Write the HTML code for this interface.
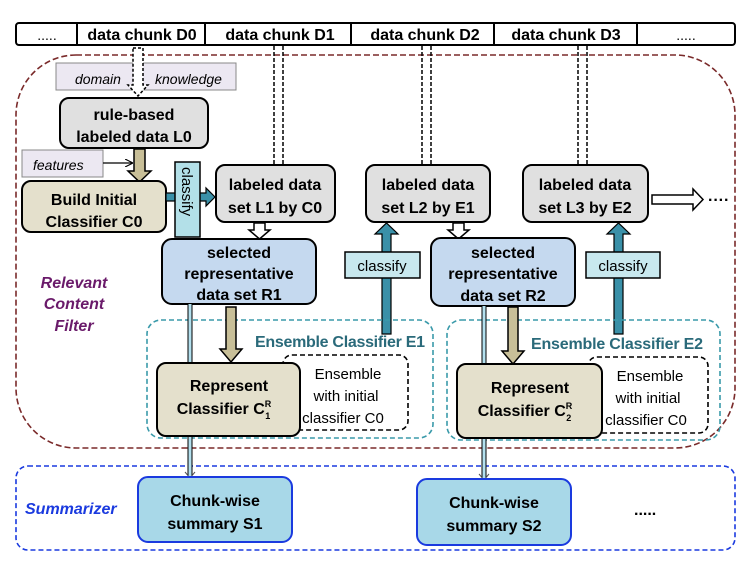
<!DOCTYPE html>
<html><head><meta charset="utf-8"><style>body{margin:0;background:#fff}svg{display:block}text{font-family:"Liberation Sans",sans-serif}</style></head><body>
<svg width="747" height="561" viewBox="0 0 747 561" xmlns="http://www.w3.org/2000/svg">
<defs>
<marker id="ah" markerWidth="8" markerHeight="8" refX="7" refY="4" orient="auto" markerUnits="userSpaceOnUse"><path d="M0,0 L8,4 L0,8" fill="none" stroke="#000" stroke-width="1.2"/></marker>
</defs>
<rect x="16" y="23" width="719" height="22" rx="3" fill="#fff" stroke="#000" stroke-width="2"/>
<g stroke="#000" stroke-width="2"><line x1="77" y1="23" x2="77" y2="45"/><line x1="205" y1="23" x2="205" y2="45"/><line x1="351" y1="23" x2="351" y2="45"/><line x1="494" y1="23" x2="494" y2="45"/><line x1="637" y1="23" x2="637" y2="45"/></g>
<g font-size="16" font-weight="bold" text-anchor="middle">
<text x="47" y="40" font-weight="normal" font-size="14">.....</text>
<text x="142" y="40">data chunk D0</text><text x="280" y="40">data chunk D1</text>
<text x="425" y="40">data chunk D2</text><text x="566" y="40">data chunk D3</text>
<text x="686" y="40" font-weight="normal" font-size="14">.....</text></g>
<rect x="16" y="55" width="719" height="393" rx="60" fill="none" stroke="#7a2a2a" stroke-width="1.6" stroke-dasharray="6,3"/>
<rect x="16" y="466" width="719" height="84" rx="12" fill="none" stroke="#1a3adf" stroke-width="1.6" stroke-dasharray="5,3"/>
<rect x="56" y="63" width="180" height="27" fill="#ece8f2" stroke="#888" stroke-width="1"/>
<text x="75" y="84" font-size="14" font-style="italic">domain</text>
<text x="155" y="84" font-size="14" font-style="italic">knowledge</text>
<path d="M133,48 L143,48 L143,85 L148,85 L138,96 L128,85 L133,85 Z" fill="#fff" stroke="#000" stroke-width="1.5" stroke-dasharray="3,2"/>
<g stroke="#000" stroke-width="1.5" stroke-dasharray="4,2">
<line x1="274" y1="46" x2="274" y2="165"/><line x1="283" y1="46" x2="283" y2="165"/>
<line x1="422" y1="46" x2="422" y2="165"/><line x1="431" y1="46" x2="431" y2="165"/>
<line x1="578" y1="46" x2="578" y2="165"/><line x1="587" y1="46" x2="587" y2="165"/></g>
<rect x="60" y="98" width="148" height="50" rx="9" fill="#e0e0e0" stroke="#000" stroke-width="2"/>
<text x="134" y="120" font-size="16" font-weight="bold" text-anchor="middle">rule-based</text>
<text x="134" y="142" font-size="16" font-weight="bold" text-anchor="middle">labeled data L0</text>
<rect x="22" y="150" width="81" height="27" fill="#ece8f2" stroke="#888" stroke-width="1"/>
<text x="33" y="170" font-size="14" font-style="italic">features</text>
<line x1="103" y1="163" x2="132" y2="163" stroke="#000" stroke-width="1.2" marker-end="url(#ah)"/>
<path d="M134,149 L145,149 L145,171 L151,171 L139.5,182 L128,171 L134,171 Z" fill="#c8bf98" stroke="#000" stroke-width="1.5"/>
<rect x="22" y="181" width="144" height="51" rx="9" fill="#e4e0cc" stroke="#000" stroke-width="2"/>
<text x="94" y="205" font-size="16" font-weight="bold" text-anchor="middle">Build Initial</text>
<text x="94" y="227" font-size="16" font-weight="bold" text-anchor="middle">Classifier C0</text>
<path d="M166,193 L206,193 L206,188 L215,197 L206,206 L206,201 L166,201 Z" fill="#3a90a8" stroke="#000" stroke-width="1.2"/>
<rect x="175" y="162" width="25" height="75" fill="#b3e0e8" stroke="#000" stroke-width="1.5"/>
<text x="182" y="167" font-size="15" transform="rotate(90 182 167)">classify</text>
<rect x="216" y="165" width="119" height="57" rx="9" fill="#e0e0e0" stroke="#000" stroke-width="2"/>
<text x="275" y="190" font-size="16" font-weight="bold" text-anchor="middle">labeled data</text>
<text x="275" y="213" font-size="16" font-weight="bold" text-anchor="middle">set L1 by C0</text>
<path d="M254,223 L265,223 L265,230 L270,230 L259.5,239 L249,230 L254,230 Z" fill="#fff" stroke="#000" stroke-width="1.5"/>
<rect x="162" y="239" width="154" height="65" rx="10" fill="#c5d9ef" stroke="#000" stroke-width="2"/>
<g font-size="16" font-weight="bold" text-anchor="middle"><text x="239" y="258">selected</text><text x="239" y="279">representative</text><text x="239" y="300">data set R1</text></g>
<rect x="366" y="165" width="124" height="57" rx="9" fill="#e0e0e0" stroke="#000" stroke-width="2"/>
<text x="428" y="190" font-size="16" font-weight="bold" text-anchor="middle">labeled data</text>
<text x="428" y="213" font-size="16" font-weight="bold" text-anchor="middle">set L2 by E1</text>
<path d="M453,223 L464,223 L464,230 L469,230 L458.5,239 L448,230 L453,230 Z" fill="#fff" stroke="#000" stroke-width="1.5"/>
<path d="M382,334 L391,334 L391,234 L398,234 L386.5,223 L375,234 L382,234 Z" fill="#3a90a8" stroke="#000" stroke-width="1.2"/>
<rect x="345" y="252" width="75" height="26" fill="#c8e8ee" stroke="#000" stroke-width="1.5"/>
<text x="382" y="271" font-size="15" text-anchor="middle">classify</text>
<path d="M614,334 L623,334 L623,234 L630,234 L618.5,223 L607,234 L614,234 Z" fill="#3a90a8" stroke="#000" stroke-width="1.2"/>
<rect x="586" y="252" width="74" height="26" fill="#c8e8ee" stroke="#000" stroke-width="1.5"/>
<text x="623" y="271" font-size="15" text-anchor="middle">classify</text>
<rect x="431" y="238" width="144" height="68" rx="10" fill="#c5d9ef" stroke="#000" stroke-width="2"/>
<g font-size="16" font-weight="bold" text-anchor="middle"><text x="503" y="258">selected</text><text x="503" y="279">representative</text><text x="503" y="301">data set R2</text></g>
<rect x="523" y="165" width="125" height="57" rx="9" fill="#e0e0e0" stroke="#000" stroke-width="2"/>
<text x="585" y="190" font-size="16" font-weight="bold" text-anchor="middle">labeled data</text>
<text x="585" y="213" font-size="16" font-weight="bold" text-anchor="middle">set L3 by E2</text>
<path d="M652,195 L693,195 L693,189 L703,199.5 L693,210 L693,204 L652,204 Z" fill="#fff" stroke="#000" stroke-width="1.5"/>
<text x="708" y="205" font-size="16" font-weight="bold">····</text>
<g font-size="16" font-weight="bold" font-style="italic" fill="#6a1a6a" text-anchor="middle"><text x="74" y="288">Relevant</text><text x="74" y="309">Content</text><text x="74" y="331">Filter</text></g>
<rect x="147" y="320" width="286" height="118" rx="14" fill="none" stroke="#3a9aaa" stroke-width="1.6" stroke-dasharray="5,3"/>
<text x="255" y="347" font-size="16" font-weight="bold" fill="#2a6a7a" textLength="170">Ensemble Classifier E1</text>
<rect x="447" y="320" width="273" height="120" rx="14" fill="none" stroke="#3a9aaa" stroke-width="1.6" stroke-dasharray="5,3"/>
<text x="531" y="349" font-size="16" font-weight="bold" fill="#2a6a7a" textLength="172">Ensemble Classifier E2</text>
<line x1="190" y1="304" x2="190" y2="476" stroke="#000" stroke-width="5"/>
<line x1="190" y1="304" x2="190" y2="476" stroke="#b3e0ee" stroke-width="3"/>
<line x1="484" y1="306" x2="484" y2="478" stroke="#000" stroke-width="5"/>
<line x1="484" y1="306" x2="484" y2="478" stroke="#b3e0ee" stroke-width="3"/>
<path d="M185,472 L190,478 L195,472" fill="none" stroke="#555" stroke-width="1"/>
<path d="M479,474 L484,480 L489,474" fill="none" stroke="#555" stroke-width="1"/>
<path d="M226,307 L236,307 L236,349 L242,349 L231,362 L220,349 L226,349 Z" fill="#c8bf98" stroke="#000" stroke-width="1.5"/>
<path d="M508,307 L518,307 L518,351 L524,351 L513,364 L502,351 L508,351 Z" fill="#c8bf98" stroke="#000" stroke-width="1.5"/>
<rect x="283" y="355" width="125" height="75" rx="9" fill="#fff" stroke="#000" stroke-width="1.6" stroke-dasharray="5,3"/>
<g font-size="15" text-anchor="middle"><text x="240" y="379" textLength="52" lengthAdjust="spacingAndGlyphs" dx="0" transform="translate(0,0)" style="display:none">x</text>
<text x="240" y="379" x-dummy="" style="display:none"></text></g>
<g font-size="15" text-anchor="middle"><text x="240" y="378" style="display:none"></text></g>
<g font-size="15"><text x="214" y="378" transform="translate(0,0)" style="display:none"></text></g>
<g font-size="15" text-anchor="middle"><text x="240" y="379" style="display:none"></text></g>
<g font-size="15" text-anchor="middle"><text x="240" y="379" style="display:none"></text></g>
<g font-size="15" text-anchor="middle">
<text x="240" y="379" style="display:none"></text></g>
<g font-size="15" text-anchor="middle"><text x="240" y="379" style="display:none"></text></g>
<g font-size="15" text-anchor="middle">
<text x="240" y="379" style="display:none"></text></g>
<g font-size="15" text-anchor="middle"><text x="348" y="379">Ensemble</text><text x="346" y="401">with initial</text><text x="343" y="423">classifier C0</text></g>
<rect x="588" y="357" width="120" height="76" rx="9" fill="#fff" stroke="#000" stroke-width="1.6" stroke-dasharray="5,3"/>
<g font-size="15" text-anchor="middle"><text x="650" y="381">Ensemble</text><text x="648" y="403">with initial</text><text x="646" y="425">classifier C0</text></g>
<rect x="157" y="363" width="143" height="73" rx="9" fill="#e4e0cc" stroke="#000" stroke-width="2"/>
<text x="229" y="391" font-size="16" font-weight="bold" text-anchor="middle">Represent</text>
<text x="224" y="414" font-size="16" font-weight="bold" text-anchor="middle">Classifier C<tspan font-size="9" dy="-7">R</tspan><tspan font-size="9" dx="-6" dy="12">1</tspan></text>
<rect x="457" y="364" width="145" height="74" rx="9" fill="#e4e0cc" stroke="#000" stroke-width="2"/>
<text x="530" y="393" font-size="16" font-weight="bold" text-anchor="middle">Represent</text>
<text x="525" y="416" font-size="16" font-weight="bold" text-anchor="middle">Classifier C<tspan font-size="9" dy="-7">R</tspan><tspan font-size="9" dx="-6" dy="12">2</tspan></text>
<text x="25" y="514" font-size="16" font-weight="bold" font-style="italic" fill="#1a3adf">Summarizer</text>
<rect x="138" y="477" width="154" height="65" rx="10" fill="#a8d8e8" stroke="#1a3adf" stroke-width="2"/>
<text x="215" y="506" font-size="16" font-weight="bold" text-anchor="middle">Chunk-wise</text>
<text x="215" y="529" font-size="16" font-weight="bold" text-anchor="middle">summary S1</text>
<rect x="417" y="479" width="154" height="66" rx="10" fill="#a8d8e8" stroke="#1a3adf" stroke-width="2"/>
<text x="494" y="508" font-size="16" font-weight="bold" text-anchor="middle">Chunk-wise</text>
<text x="494" y="531" font-size="16" font-weight="bold" text-anchor="middle">summary S2</text>
<text x="634" y="515" font-size="16" font-weight="bold">.....</text>
</svg>
</body></html>
